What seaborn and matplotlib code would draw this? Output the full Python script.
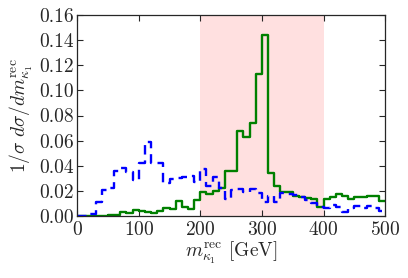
import numpy as np
import matplotlib
matplotlib.use("Agg")
import matplotlib.pyplot as plt
import seaborn as sns

# bin edges in GeV (10 GeV bins from 0 to 500)
bin_edges = list(range(0, 510, 10))
bin_centers = [e + 5 for e in bin_edges[:-1]]

# signal (green, solid)
signal = [0, 0, 0, 0, 0, 0.0005, 0.0005, 0.003, 0.002, 0.0045,
          0.004, 0.003, 0.002, 0.004, 0.0065, 0.005, 0.0115, 0.0067, 0.005, 0.0126,
          0.019, 0.0174, 0.0198, 0.022, 0.0358, 0.0358, 0.068, 0.0627, 0.0744, 0.113,
          0.1446, 0.034, 0.024, 0.0187, 0.019, 0.0158, 0.0147, 0.0139, 0.0135, 0.0067,
          0.0134, 0.0147, 0.017, 0.0158, 0.0134, 0.0147, 0.015, 0.0158, 0.016, 0.012]

# background (blue, dashed)
background = [0, 0, 0.0015, 0.011, 0.0206, 0.022, 0.0358, 0.038, 0.035, 0.0286,
              0.0424, 0.0587, 0.0424, 0.042, 0.0264, 0.029, 0.0305, 0.031, 0.032, 0.027,
              0.037, 0.024, 0.031, 0.022, 0.013, 0.0206, 0.021, 0.019, 0.021, 0.018,
              0.011, 0.016, 0.011, 0.018, 0.017, 0.0165, 0.015, 0.0125, 0.0104, 0.0067,
              0.006, 0.0085, 0.007, 0.003, 0.006, 0.0075, 0.0065, 0.008, 0.006, 0.0035]

window = (200, 400)

sns.set_style("ticks")
plt.rcParams["font.family"] = ["cmr10", "DejaVu Serif"]
plt.rcParams["mathtext.fontset"] = "cm"
plt.rcParams["axes.formatter.use_mathtext"] = True
plt.rcParams["font.size"] = 14

fig = plt.figure(figsize=(4.08, 2.78), dpi=100)
ax = fig.add_axes([0.189, 0.224, 0.755, 0.721])

ax.axvspan(window[0], window[1], color="red", alpha=0.12, lw=0, zorder=0)

sns.histplot(x=bin_centers, weights=signal, bins=bin_edges, element="step",
             fill=False, color="green", linewidth=1.7, ax=ax)
sns.histplot(x=bin_centers, weights=background, bins=bin_edges, element="step",
             fill=False, color="blue", linewidth=1.7, linestyle=(0, (4, 2.5)), ax=ax)

ax.set_xlim(0, 500)
ax.set_ylim(0, 0.16)
ax.set_xticks(range(0, 501, 100))
ax.set_yticks(np.arange(0, 0.161, 0.02))
ax.set_yticklabels([f"{v:.2f}" for v in np.arange(0, 0.161, 0.02)])
ax.tick_params(direction="in", top=True, right=True, length=4, width=0.8,
               labelsize=14)
ax.tick_params(axis="x", pad=4)
ax.tick_params(axis="y", pad=2)
for s in ax.spines.values():
    s.set_linewidth(0.9)

ax.set_xlabel(r"$m^{\rm rec}_{\kappa_1}$ [GeV]", fontsize=14, labelpad=0)
ax.set_ylabel(r"$1/\sigma\ d\sigma/dm^{\rm rec}_{\kappa_1}$", fontsize=14, labelpad=3)

fig.savefig("out.png", dpi=100)
